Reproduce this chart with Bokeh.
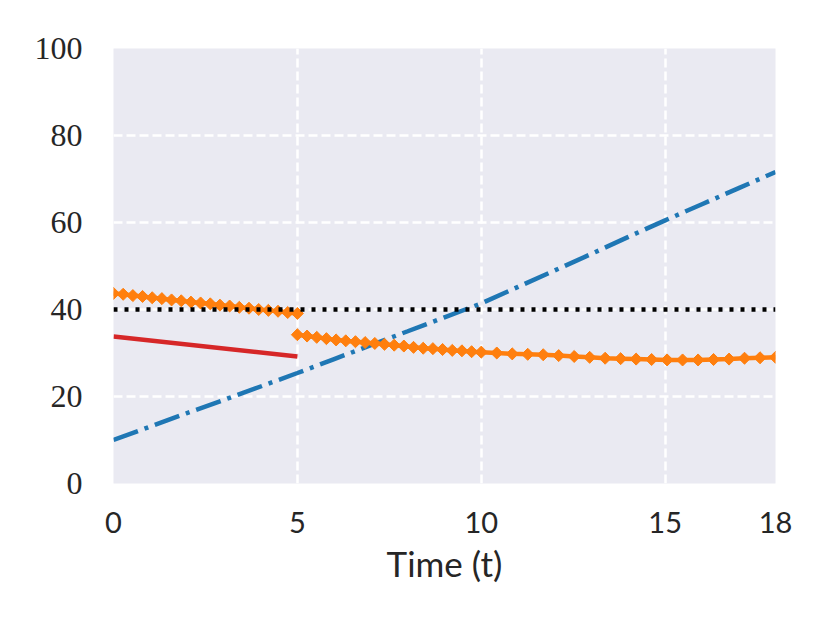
import numpy as np
from bokeh.plotting import figure
from bokeh.models import FixedTicker, Range1d
from bokeh.embed import file_html
from bokeh.resources import INLINE

# ---- data ----
x_ticks = [0, 5, 10, 15, 18]
y_ticks = [0, 20, 40, 60, 80, 100]

blue_t = [0, 1, 2, 3, 4, 5, 6, 7, 8, 9, 10, 11, 12, 13, 14, 15, 16, 17, 18]
blue_y = [10.0, 13.1, 16.2, 19.2, 22.3, 25.4, 28.6, 31.8, 35.0, 38.2, 41.4,
          45.2, 49.0, 52.8, 56.7, 60.5, 64.2, 67.9, 71.6]

red_t = [0, 5]
red_y = [33.8, 29.2]

orange1_t = list(np.linspace(0, 5, 20))
orange1_y = [43.7, 43.5, 43.2, 43.0, 42.7, 42.5, 42.2, 42.0, 41.7, 41.5,
             41.3, 41.0, 40.8, 40.5, 40.3, 40.0, 39.8, 39.6, 39.3, 39.1]
orange2_t = list(np.linspace(5, 10, 20)) + list(np.linspace(10, 18, 20))[1:]
orange2_y = [34.2, 33.9, 33.6, 33.3, 33.0, 32.8, 32.6, 32.4, 32.2, 32.0,
             31.8, 31.6, 31.3, 31.1, 31.0, 30.8, 30.6, 30.5, 30.3, 30.2,
             30.0, 29.8, 29.7, 29.6, 29.4, 29.2, 29.0, 28.8, 28.7,
             28.6, 28.5, 28.4, 28.4, 28.4, 28.5, 28.6, 28.8, 28.9, 29.0]

ref_t = [0, 18]
ref_y = [40, 40]

x_label = "Time (t)"

# ---- figure ----
p = figure(width=822, height=615, x_range=Range1d(0, 18), y_range=Range1d(0, 100),
           output_backend="svg", toolbar_location=None,
           min_border_left=113, min_border_right=47, min_border_top=48, min_border_bottom=132)
p.background_fill_color = "#EAEAF2"
p.border_fill_color = "white"
p.outline_line_color = None

for ax in (p.xaxis, p.yaxis):
    ax.axis_line_color = None
    ax.major_tick_line_color = None
    ax.minor_tick_line_color = None
p.xaxis.ticker = FixedTicker(ticks=x_ticks)
p.yaxis.ticker = FixedTicker(ticks=y_ticks)
p.xaxis.major_label_text_font = "Lato"
p.xaxis.major_label_text_font_size = "29px"
p.xaxis.major_label_text_color = "#262626"
p.xaxis.major_label_standoff = 22
p.yaxis.major_label_text_font = "Liberation Serif"
p.yaxis.major_label_text_font_size = "32px"
p.yaxis.major_label_text_color = "#262626"
p.yaxis.major_label_standoff = 25
p.xaxis.axis_label = x_label
p.xaxis.axis_label_text_font = "Lato"
p.xaxis.axis_label_text_font_size = "35px"
p.xaxis.axis_label_text_font_style = "normal"
p.xaxis.axis_label_text_color = "#262626"
p.xaxis.axis_label_standoff = 6

p.xgrid.ticker = FixedTicker(ticks=[5, 10, 15])
p.ygrid.ticker = FixedTicker(ticks=[20, 40, 60, 80])
for g in (p.xgrid, p.ygrid):
    g.grid_line_color = "white"
    g.grid_line_width = 2.5
    g.grid_line_dash = "9 4"

# ---- marks ----
p.line(blue_t, blue_y, line_color="#1f77b4", line_width=4.5, line_dash="26 7 4 7")
p.line(red_t, red_y, line_color="#d62728", line_width=4.5)
p.line(orange1_t, orange1_y, line_color="#ff7f0e", line_width=4.5)
p.scatter(orange1_t, orange1_y, marker="square", angle=np.pi / 4, size=8.5,
          fill_color="#ff7f0e", line_color="#ff7f0e")
p.line(orange2_t, orange2_y, line_color="#ff7f0e", line_width=4.5)
p.scatter(orange2_t, orange2_y, marker="square", angle=np.pi / 4, size=8.5,
          fill_color="#ff7f0e", line_color="#ff7f0e")
p.line(ref_t, ref_y, line_color="black", line_width=4.5, line_dash="4 7")

open("out.html", "w").write(file_html(p, INLINE))
